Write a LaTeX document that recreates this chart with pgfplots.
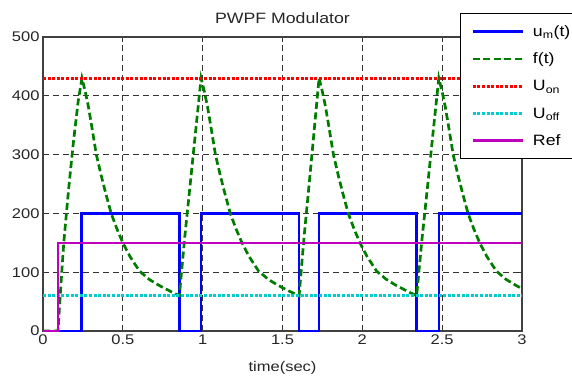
\documentclass[border=0pt]{standalone}
\usepackage{fontspec}
\setmainfont{Liberation Sans}[FakeStretch=1.18]
\usepackage{pgfplots}
\pgfplotsset{compat=1.18}
\definecolor{mblue}{RGB}{0,0,255}
\definecolor{mgreen}{RGB}{0,125,0}
\definecolor{mred}{RGB}{255,0,0}
\definecolor{mcyan}{RGB}{0,205,205}
\definecolor{mmag}{RGB}{190,0,190}
\newcommand{\lent}[1]{\makebox[60pt][l]{\rule[-4pt]{0pt}{15pt}#1}}
\begin{document}
\begin{tikzpicture}[x=1pt,y=1pt]
\useasboundingbox (-43,-45) rectangle (529,331);
\begin{axis}[
  at={(0,0)}, anchor=south west,
  scale only axis, width=479pt, height=294pt,
  xmin=0, xmax=3, ymin=0, ymax=500,
  xtick={0,0.5,1,1.5,2,2.5,3},
  xticklabels={0,0.5,1,1.5,2,2.5,3},
  ytick={0,100,200,300,400,500},
  yticklabels={0,100,200,300,400,500},
  /pgf/number format/assume math mode=true,
  tick label style={font=\fontsize{14}{14}\selectfont, text=black!85},
  tick align=inside, major tick length=5pt,
  tick style={black!80, line width=0.9pt},
  axis line style={black!75, line width=1.2pt},
  grid=major,
  major grid style={black!80, dash pattern=on 6pt off 4pt, line width=1.1pt},
  title={PWPF Modulator},
  title style={font=\fontsize{15}{15}\selectfont, text=black!85, at={(0.5,1)}, anchor=south, yshift=4pt},
  xlabel={time(sec)},
  xlabel style={font=\fontsize{14}{14}\selectfont, text=black!85, at={(axis description cs:0.5,0)}, anchor=north, yshift=-27pt},
  legend style={
    at={(rel axis cs:0.8706,1.0816)}, anchor=north west,
    draw=black, line width=0.9pt, fill=white,
    inner xsep=11pt, inner ysep=10pt,
    row sep=10.7pt,
    /tikz/every odd column/.append style={column sep=6.7pt},
    font=\fontsize{15}{15}\selectfont,
  },
  legend cell align=left,
  legend image code/.code={\draw[#1] (0pt,0pt) -- (50pt,0pt);},
]
\addplot[mblue, line width=2.6pt] coordinates {
  (0,0) (0.24,0) (0.24,200) (0.854,200) (0.854,0) (0.99,0) (0.99,200)
  (1.604,200) (1.604,0) (1.729,0) (1.729,200) (2.34,200) (2.34,0)
  (2.479,0) (2.479,200) (3,200)};
\addlegendentry{\lent{u\textsubscript{m}(t)}}
\addplot[mgreen, line width=2.7pt, dash pattern=on 7pt off 3.5pt] coordinates {
  (0,0) (0.094,0) (0.11,70) (0.13,150) (0.16,240) (0.19,320) (0.22,390) (0.244,430)
  (0.264,408) (0.284,382) (0.304,350) (0.334,300) (0.364,265) (0.394,233) (0.427,200)
  (0.464,173) (0.500,150) (0.544,127) (0.604,102) (0.664,88) (0.724,78) (0.794,68) (0.854,60)
  (0.888,160) (0.922,250) (0.956,340) (0.99,430)
  (1.01,408) (1.03,382) (1.05,350) (1.08,300) (1.11,265) (1.14,233) (1.173,200)
  (1.21,173) (1.246,150) (1.29,127) (1.35,102) (1.41,88) (1.47,78) (1.54,68) (1.604,60)
  (1.635,160) (1.667,250) (1.698,340) (1.729,430)
  (1.749,408) (1.769,382) (1.789,350) (1.819,300) (1.849,265) (1.879,233) (1.912,200)
  (1.949,173) (1.985,150) (2.029,127) (2.089,102) (2.149,88) (2.209,78) (2.279,68) (2.34,60)
  (2.375,160) (2.41,250) (2.444,340) (2.479,430)
  (2.499,408) (2.519,382) (2.539,350) (2.569,300) (2.599,265) (2.629,233) (2.662,200)
  (2.699,173) (2.735,150) (2.779,127) (2.839,102) (2.899,88) (2.959,78) (3.0,72)};
\addlegendentry{\lent{f(t)}}
\addplot[mred, line width=2.8pt, dash pattern=on 3pt off 1.6pt] coordinates {(0,430) (3,430)};
\addlegendentry{\lent{U\textsubscript{on}}}
\addplot[mcyan, line width=2.8pt, dash pattern=on 3pt off 1.6pt] coordinates {(0,60) (3,60)};
\addlegendentry{\lent{U\textsubscript{off}}}
\addplot[mmag, line width=2.6pt] coordinates {(0,0) (0.094,0) (0.094,150) (3,150)};
\addlegendentry{\lent{Ref}}
\end{axis}
\end{tikzpicture}
\end{document}
